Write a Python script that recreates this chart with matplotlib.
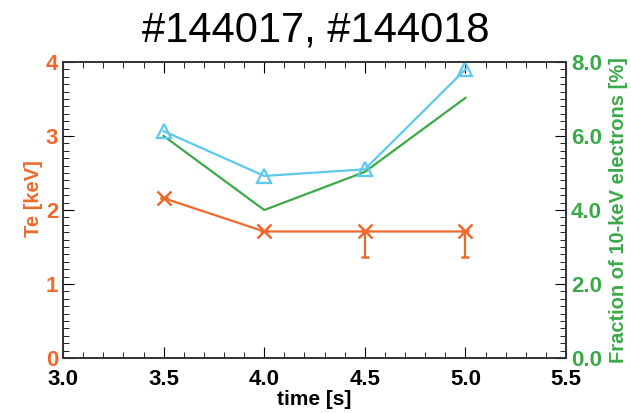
import matplotlib.pyplot as plt
from matplotlib.ticker import MultipleLocator, FormatStrFormatter

plt.rcParams['font.family'] = ['Liberation Sans', 'DejaVu Sans']

orange = '#EE6A2C'
green = '#3AAA48'
blue = '#5EC8EE'

time = [3.5, 4.0, 4.5, 5.0]
te = [2.16, 1.71, 1.71, 1.71]
te_err_low = [0, 0, 0.35, 0.35]
frac_tri = [6.13, 4.92, 5.1, 7.8]
frac_line = [6.0, 4.0, 5.03, 7.03]

fig = plt.figure(figsize=(6.31, 4.13), dpi=100)
ax = fig.add_axes([0.1, 0.133, 0.797, 0.717])
ax2 = ax.twinx()

ax.errorbar(time, te, yerr=[te_err_low, [0] * 4], color=orange, marker='x',
            markersize=10, mew=1.8, lw=1.6, capsize=3, elinewidth=1.6)
ax2.plot(time, frac_line, color=green, lw=1.6)
ax2.plot(time, frac_tri, color=blue, marker='^', markersize=10, mfc='none',
         mew=1.6, lw=1.6)

ax.set_xlim(3.0, 5.5)
ax.set_ylim(0, 4)
ax2.set_ylim(0, 8)
ax.xaxis.set_major_locator(MultipleLocator(0.5))
ax.xaxis.set_minor_locator(MultipleLocator(0.1))
ax.xaxis.set_major_formatter(FormatStrFormatter('%.1f'))
ax.yaxis.set_major_locator(MultipleLocator(1))
ax.yaxis.set_minor_locator(MultipleLocator(0.1))
ax2.yaxis.set_major_locator(MultipleLocator(2))
ax2.yaxis.set_minor_locator(MultipleLocator(0.2))
ax2.yaxis.set_major_formatter(FormatStrFormatter('%.1f'))

ax.tick_params(axis='x', which='both', direction='in', top=True, labelsize=16)
ax.tick_params(axis='x', which='major', length=8, pad=8)
ax.tick_params(axis='x', which='minor', length=4)
ax.tick_params(axis='y', which='both', direction='in', labelsize=16,
               labelcolor=orange)
ax.tick_params(axis='y', which='major', length=8)
ax.tick_params(axis='y', which='minor', length=4)
ax2.tick_params(axis='y', which='both', direction='in', labelsize=16,
                labelcolor=green)
ax2.tick_params(axis='y', which='major', length=8)
ax2.tick_params(axis='y', which='minor', length=4)
for lab in ax.get_xticklabels() + ax.get_yticklabels() + ax2.get_yticklabels():
    lab.set_fontweight('bold')
for a in (ax, ax2):
    for s in a.spines.values():
        s.set_color('#333333')
        s.set_linewidth(1.2)

ax.set_xlabel('time [s]', fontsize=15, fontweight='bold', labelpad=0)
ax.set_ylabel('Te [keV]', fontsize=14.5, fontweight='bold', color=orange)
ax.yaxis.set_label_coords(-0.04, 0.54)
ax2.set_ylabel('Fraction of 10-keV electrons [%]', fontsize=14.5,
               fontweight='bold', color=green, labelpad=5)
fig.suptitle('#144017, #144018', fontsize=30, y=0.975)

fig.savefig('out.png', dpi=100)
